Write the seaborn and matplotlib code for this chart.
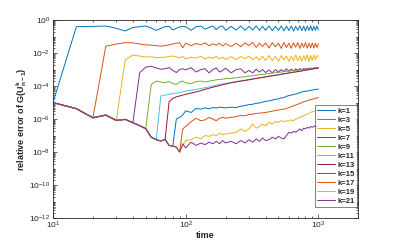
import numpy as np
import pandas as pd
import matplotlib
matplotlib.use('Agg')
import matplotlib.pyplot as plt
import matplotlib.ticker as mticker
import seaborn as sns

# time grid (coarser at late times)
t = [10, 15, 20, 25, 30, 35, 40, 45, 50, 55, 60, 65, 70, 75, 80, 85, 90, 95, 100,
     110, 120, 130, 140, 150, 160, 170, 180, 190, 200,
     220, 240, 260, 280, 300, 320, 340, 360, 380, 400,
     425, 450, 475, 500, 525, 550, 575, 600, 625, 650, 675, 700, 725, 750, 775,
     800, 825, 850, 875, 900, 925, 950, 975, 1000]

# shared starting branch (log10 of error), t = 10 .. 90
base = [-5.0, -5.37, -5.92, -5.76, -6.08, -6.02, -6.22, -6.4, -6.58, -7.1,
        -7.25, -7.33, -7.23, -7.6, -7.64, -7.7, -8.0]

# each branch after it leaves the base line (log10), ending at t = 1000
k1 = [-0.40, -0.38, -0.36, -0.50, -0.66, -0.45, -0.40, -0.36, -0.48, -0.62, -0.50,
      -0.40, -0.38, -0.60, -0.50, -0.42, -0.38, -0.40, -0.62, -0.40, -0.36, -0.55,
      -0.45, -0.36, -0.58, -0.40, -0.36, -0.62, -0.38, -0.60, -0.36, -0.62, -0.38,
      -0.60, -0.36, -0.62, -0.38, -0.62, -0.36, -0.64, -0.38, -0.62, -0.36, -0.65,
      -0.37, -0.63, -0.36, -0.66, -0.38, -0.62, -0.35, -0.64, -0.37, -0.66, -0.36,
      -0.63, -0.35, -0.65, -0.37, -0.62, -0.36, -0.60]
k3 = [-1.58, -1.45, -1.37, -1.38, -1.45, -1.50, -1.52, -1.55, -1.58, -1.55, -1.50,
      -1.45, -1.40, -1.37, -1.68, -1.40, -1.55, -1.42, -1.50, -1.38, -1.55, -1.45,
      -1.52, -1.40, -1.58, -1.42, -1.60, -1.40, -1.62, -1.38, -1.55, -1.35, -1.65,
      -1.40, -1.60, -1.38, -1.68, -1.37, -1.62, -1.40, -1.72, -1.36, -1.66, -1.40,
      -1.70, -1.38, -1.64, -1.36, -1.72, -1.40, -1.65, -1.37, -1.70, -1.40, -1.68,
      -1.38, -1.70, -1.40, -1.66, -1.42]
k5 = [-2.42, -2.12, -2.18, -2.24, -2.22, -2.28, -2.26, -2.25, -2.20, -2.18, -2.22,
      -2.30, -2.20, -2.35, -2.25, -2.30, -2.20, -2.35, -2.25, -2.32, -2.20, -2.35,
      -2.25, -2.38, -2.22, -2.40, -2.20, -2.35, -2.18, -2.40, -2.22, -2.42, -2.20,
      -2.45, -2.15, -2.45, -2.20, -2.50, -2.15, -2.42, -2.18, -2.50, -2.20, -2.45,
      -2.12, -2.48, -2.18, -2.50, -2.15, -2.45, -2.10, -2.50, -2.15, -2.45, -2.12,
      -2.40, -2.15, -2.20]
k7 = [-3.19, -2.85, -2.80, -2.90, -2.98, -2.95, -2.88, -3.05, -3.18, -3.00, -2.95,
      -3.02, -2.88, -3.15, -3.00, -2.95, -3.20, -3.00, -2.90, -3.15, -3.05, -2.92,
      -3.20, -3.00, -2.95, -3.20, -3.05, -3.20, -2.98, -3.15, -3.00, -3.18, -3.02,
      -3.20, -3.00, -3.15, -3.00, -3.12, -2.95, -3.10, -2.98, -3.08, -2.96, -3.05,
      -2.94, -3.02, -2.93, -2.98, -2.92, -2.96, -2.90, -2.95, -2.90, -2.92, -2.88,
      -2.90]
k9 = [-3.90, -3.70, -3.75, -3.80, -3.72, -3.85, -3.90, -3.75, -3.70, -3.80, -3.85,
      -3.72, -3.70, -3.75, -3.70, -3.66, -3.62, -3.60, -3.58, -3.55, -3.53, -3.50,
      -3.46, -3.43, -3.40, -3.37, -3.34, -3.31, -3.29, -3.27, -3.24, -3.21, -3.19,
      -3.17, -3.15, -3.13, -3.11, -3.09, -3.07, -3.06, -3.04, -3.03, -3.01, -3.00,
      -2.99, -2.98, -2.96, -2.95, -2.94, -2.93, -2.92, -2.91, -2.90, -2.89]
k11 = [-4.60, -4.55, -4.50, -4.45, -4.42, -4.40, -4.35, -4.30, -4.25, -4.20, -4.15,
       -4.10, -4.05, -4.00, -3.95, -3.90, -3.87, -3.84, -3.78, -3.73, -3.68, -3.64,
       -3.60, -3.56, -3.52, -3.49, -3.46, -3.43, -3.39, -3.36, -3.34, -3.31, -3.28,
       -3.25, -3.23, -3.20, -3.18, -3.16, -3.14, -3.12, -3.10, -3.08, -3.06, -3.04,
       -3.02, -3.00, -2.98, -2.97, -2.95, -2.93, -2.92, -2.90]
k13 = [-4.95, -4.75, -4.65, -4.60, -4.55, -4.50, -4.42, -4.35, -4.28, -4.20, -4.13,
       -4.07, -4.02, -3.97, -3.92, -3.88, -3.80, -3.75, -3.70, -3.66, -3.62, -3.58,
       -3.54, -3.51, -3.48, -3.45, -3.41, -3.38, -3.35, -3.32, -3.29, -3.26, -3.23,
       -3.21, -3.18, -3.16, -3.14, -3.12, -3.10, -3.08, -3.06, -3.04, -3.02, -3.00,
       -2.98, -2.97, -2.95, -2.93, -2.92, -2.90]
k15 = [-6.00, -5.90, -5.75, -5.50, -5.60, -5.35, -5.40, -5.32, -5.38, -5.30, -5.33,
       -5.28, -5.30, -5.32, -5.28, -5.30, -5.22, -5.18, -5.12, -5.10, -5.05, -5.02,
       -4.98, -4.92, -4.90, -4.85, -4.80, -4.78, -4.72, -4.70, -4.62, -4.58, -4.55,
       -4.50, -4.48, -4.44, -4.40, -4.36, -4.33, -4.32, -4.30, -4.28, -4.26, -4.25,
       -4.22, -4.20, -4.20, -4.18]
k17 = [-6.60, -6.45, -6.15, -5.95, -6.10, -6.05, -5.90, -6.00, -6.10, -5.95, -5.90,
       -5.95, -5.90, -5.85, -5.78, -5.80, -5.72, -5.70, -5.66, -5.64, -5.62, -5.60,
       -5.56, -5.52, -5.48, -5.45, -5.42, -5.40, -5.35, -5.30, -5.25, -5.20, -5.15,
       -5.10, -5.05, -5.00, -4.96, -4.92, -4.88, -4.85, -4.82, -4.80, -4.77, -4.75,
       -4.72, -4.70]
k19 = [-7.60, -7.30, -7.25, -7.10, -7.20, -7.00, -7.05, -6.95, -7.00, -6.85, -6.95,
       -6.90, -6.85, -6.80, -6.60, -6.75, -6.60, -6.30, -6.55, -6.45, -6.30, -6.40,
       -6.20, -6.30, -6.15, -6.20, -6.10, -6.15, -6.10, -6.12, -6.05, -6.10, -6.00,
       -5.95, -5.90, -5.85, -5.80, -5.75, -5.70, -5.65, -5.60, -5.55, -5.52, -5.48,
       -5.44, -5.40]
k21 = [-7.50, -7.75, -7.40, -7.60, -7.45, -7.55, -7.40, -7.50, -7.35, -7.50, -7.30,
       -7.45, -7.35, -7.50, -7.30, -7.45, -7.25, -7.40, -7.20, -7.35, -7.15, -7.30,
       -7.25, -7.10, -7.20, -7.05, -7.15, -7.20, -7.00, -6.80, -6.85, -6.75, -6.80,
       -6.70, -6.60, -6.70, -6.55, -6.60, -6.50, -6.55, -6.45, -6.50, -6.45, -6.40,
       -6.50, -6.35]

labels = ['k=1', 'k=3', 'k=5', 'k=7', 'k=9', 'k=11', 'k=13', 'k=15', 'k=17', 'k=19', 'k=21']
tails = [k1, k3, k5, k7, k9, k11, k13, k15, k17, k19, k21]

# matlab default line colours
matlab_colors = ['#0072BD', '#D95319', '#EDB120', '#7E2F8E', '#77AC30', '#4DBEEE', '#A2142F']
palette = {lab: matlab_colors[i % 7] for i, lab in enumerate(labels)}

rows = []
for lab, tail in zip(labels, tails):
    start = len(t) - len(tail)
    logy = base[:start] + tail
    for ti, ly in zip(t, logy):
        rows.append({'time': ti, 'err': 10.0 ** ly, 'k': lab})
df = pd.DataFrame(rows)

sns.set_style('ticks')
plt.rcParams['font.family'] = ['Liberation Sans', 'DejaVu Sans']
plt.rcParams['mathtext.fontset'] = 'custom'
plt.rcParams['mathtext.rm'] = 'Liberation Sans'
plt.rcParams['mathtext.bf'] = 'Liberation Sans:bold'

fig = plt.figure(figsize=(3.97, 2.45), dpi=100)
ax = fig.add_axes([0.1335, 0.11, 0.769, 0.808])

sns.lineplot(data=df, x='time', y='err', hue='k', hue_order=labels, palette=palette,
             estimator=None, sort=False, linewidth=0.7, ax=ax)

ax.set_xscale('log')
ax.set_yscale('log')
ax.set_xlim(10, 2000)
ax.set_ylim(1e-12, 1)

ax.yaxis.set_major_locator(mticker.LogLocator(base=100, numticks=20))
ax.yaxis.set_minor_locator(mticker.LogLocator(base=10, subs=np.arange(1, 10), numticks=100))
ax.yaxis.set_minor_formatter(mticker.NullFormatter())
ax.xaxis.set_minor_locator(mticker.LogLocator(base=10, subs=np.arange(2, 10), numticks=100))
ax.xaxis.set_minor_formatter(mticker.NullFormatter())

ax.tick_params(which='both', direction='in', top=True, right=True, colors='#262626',
               labelsize=6, width=0.5)
ax.tick_params(axis='x', which='major', pad=1)
ax.tick_params(axis='y', which='major', pad=2)
ax.tick_params(which='major', length=3)
ax.tick_params(which='minor', length=1.5)
for s in ax.spines.values():
    s.set_linewidth(0.6)
    s.set_color('#262626')

ax.set_xlabel('time', fontsize=6.5, fontweight='bold', labelpad=0)
ax.set_ylabel(r'relative error of G(U$_{\mathbf{n-1}}^{\mathbf{k}}$)', fontsize=6.5,
              fontweight='bold', labelpad=0)

handles, labs = ax.get_legend_handles_labels()
leg = ax.legend(handles, labs, loc='lower right', bbox_to_anchor=(0.997, 0.055),
                borderaxespad=0, frameon=True, fancybox=False,
                handlelength=2.3, handletextpad=0.4, labelspacing=0.22,
                borderpad=0.3, prop={'weight': 'bold', 'size': 5.5})
leg.get_frame().set_edgecolor('#262626')
leg.get_frame().set_linewidth(0.5)

fig.savefig('out.png', dpi=100)
